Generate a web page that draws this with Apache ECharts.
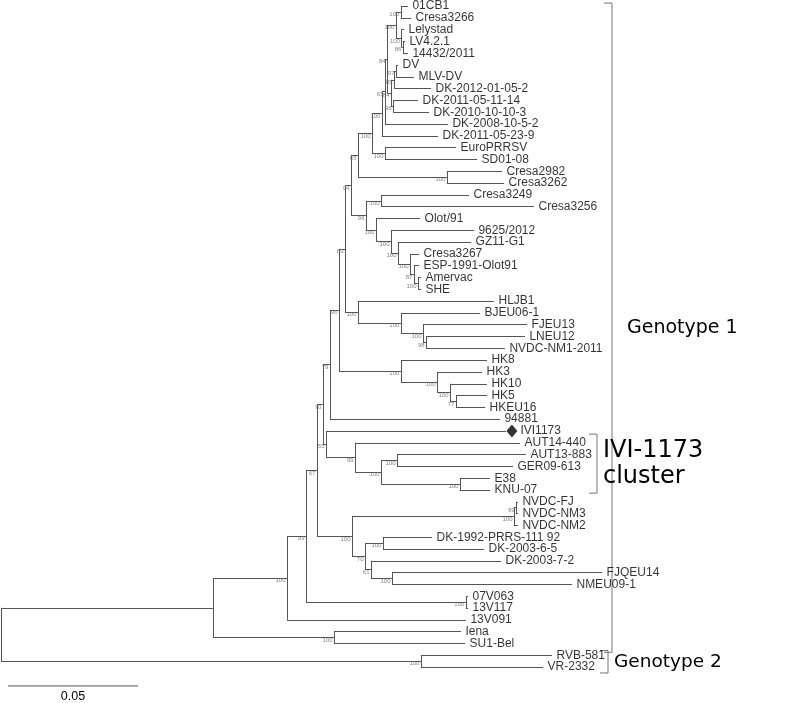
<!DOCTYPE html>
<html><head><meta charset="utf-8">
<script src="https://cdn.jsdelivr.net/npm/echarts@6/dist/echarts.min.js"></script>
<style>html,body{margin:0;padding:0;background:#fff}#c{width:785px;height:703px}</style>
</head><body><div id="c"></div>
<script>
// ---- leaves (top to bottom) ----
const leafNames = ["01CB1","Cresa3266","Lelystad","LV4.2.1","14432/2011","DV","MLV-DV","DK-2012-01-05-2","DK-2011-05-11-14","DK-2010-10-10-3","DK-2008-10-5-2","DK-2011-05-23-9","EuroPRRSV","SD01-08","Cresa2982","Cresa3262","Cresa3249","Cresa3256","Olot/91","9625/2012","GZ11-G1","Cresa3267","ESP-1991-Olot91","Amervac","SHE","HLJB1","BJEU06-1","FJEU13","LNEU12","NVDC-NM1-2011","HK8","HK3","HK10","HK5","HKEU16","94881","IVI1173","AUT14-440","AUT13-883","GER09-613","E38","KNU-07","NVDC-FJ","NVDC-NM3","NVDC-NM2","DK-1992-PRRS-111 92","DK-2003-6-5","DK-2003-7-2","FJQEU14","NMEU09-1","07V063","13V117","13V091","Iena","SU1-Bel","RVB-581","VR-2332"];
// distance from root (substitutions/site)
const leafDepth = [0.1565,0.1577,0.1550,0.1554,0.1565,0.1527,0.1588,0.1654,0.1604,0.1646,0.1719,0.1681,0.1750,0.1831,0.1927,0.1935,0.1800,0.2050,0.1612,0.1819,0.1808,0.1608,0.1608,0.1615,0.1615,0.1896,0.1842,0.2023,0.2015,0.1938,0.1869,0.1850,0.1869,0.1869,0.1862,0.1919,0.1942,0.1996,0.2019,0.1969,0.1881,0.1881,0.1988,0.1988,0.1988,0.1658,0.1858,0.1923,0.2312,0.2196,0.1796,0.1796,0.1788,0.1769,0.1785,0.2119,0.2085];
const markedLeaf = "IVI1173";

// ---- internal nodes (children listed before parents) ----
const nodeIds = ["T1","T2","T3","T4","T5","T6","T7","T8","T9","T10","T11","ES","T12","CP","T13","CC","C8","C7","C6","C5","C4","C3","C2","T14","JD","JC","JB","JA","N89","HKD","HKC","HKB","HKA","H0","H1","IB","IE","IC","IA","I0","H2","NV1","NV","DKP","FQ","F3","F2","F","D","V","C","B","IS","A","G2","R"];
const nodeChildren = [
 ["01CB1","Cresa3266"],["LV4.2.1","14432/2011"],["Lelystad","#T2"],["#T1","#T3"],["DV","MLV-DV"],["#T5","DK-2012-01-05-2"],["DK-2011-05-11-14","DK-2010-10-10-3"],["#T6","#T7"],["#T4","#T8"],["#T9","DK-2008-10-5-2"],["#T10","DK-2011-05-23-9"],["EuroPRRSV","SD01-08"],["#T11","#ES"],["Cresa2982","Cresa3262"],["#T12","#CP"],["Cresa3249","Cresa3256"],["Amervac","SHE"],["ESP-1991-Olot91","#C8"],["Cresa3267","#C7"],["GZ11-G1","#C6"],["9625/2012","#C5"],["Olot/91","#C4"],["#CC","#C3"],["#T13","#C2"],["LNEU12","NVDC-NM1-2011"],["FJEU13","#JD"],["BJEU06-1","#JC"],["HLJB1","#JB"],["#T14","#JA"],["HK5","HKEU16"],["HK10","#HKD"],["HK3","#HKC"],["HK8","#HKB"],["#N89","#HKA"],["#H0","94881"],["AUT13-883","GER09-613"],["E38","KNU-07"],["#IB","#IE"],["AUT14-440","#IC"],["IVI1173","#IA"],["#H1","#I0"],["NVDC-FJ","NVDC-NM3"],["#NV1","NVDC-NM2"],["DK-1992-PRRS-111 92","DK-2003-6-5"],["FJQEU14","NMEU09-1"],["DK-2003-7-2","#FQ"],["#DKP","#F3"],["#NV","#F2"],["#H2","#F"],["07V063","13V117"],["#D","#V"],["#C","13V091"],["Iena","SU1-Bel"],["#B","#IS"],["RVB-581","VR-2332"],["#A","#G2"]];
const nodeDepth = [0.1538,0.1546,0.1540,0.1519,0.1519,0.1512,0.1508,0.1500,0.1485,0.1477,0.1465,0.1477,0.1427,0.1715,0.1373,0.1462,0.1604,0.1588,0.1573,0.1527,0.1500,0.1442,0.1404,0.1346,0.1635,0.1623,0.1538,0.1373,0.1323,0.1750,0.1727,0.1677,0.1538,0.1300,0.1265,0.1523,0.1765,0.1462,0.1362,0.1250,0.1238,0.1981,0.1973,0.1469,0.1504,0.1423,0.1400,0.1350,0.1215,0.1788,0.1173,0.1100,0.1281,0.0815,0.1615,0];
const nodeSupport = [100,86,100,100,97,85,96,84,84,65,100,100,100,100,65,100,100,87,100,100,100,100,96,94,98,100,100,100,89,77,100,100,100,96,79,100,100,100,99,55,70,99,100,100,100,61,70,100,67,100,99,100,100,null,100,null];

// ---- annotations ----
const scaleBarLength = 0.05;
const scaleBarLabel = "0.05";
const clades = [
  {text:["Genotype 1"], from:"01CB1", to:"SU1-Bel"},
  {text:["IVI-1173","cluster"], from:"IVI1173", to:"KNU-07"},
  {text:["Genotype 2"], from:"RVB-581", to:"VR-2332"}
];

// ---- build tree geometry ----
const pos = {};
leafNames.forEach((n,i)=>{ pos[n] = {x:leafDepth[i], y:i}; });
nodeIds.forEach((id,k)=>{
  const ch = nodeChildren[k].map(c=>pos[c]);
  const ys = ch.map(p=>p.y);
  pos['#'+id] = {x:nodeDepth[k], y:(Math.min(...ys)+Math.max(...ys))/2};
});
const segs = [];
nodeIds.forEach((id,k)=>{
  const p = pos['#'+id];
  const ch = nodeChildren[k].map(c=>pos[c]);
  const ys = ch.map(q=>q.y);
  segs.push({coords:[[p.x,Math.min(...ys)],[p.x,Math.max(...ys)]]});
  ch.forEach(q=>segs.push({coords:[[p.x,q.y],[q.x,q.y]]}));
});

const chart = echarts.init(document.getElementById('c'), null, {renderer:'canvas'});
const FONT = '"Liberation Sans", Arial, sans-serif';
const option = {
  animation:false,
  backgroundColor:'#fff',
  grid:{left:1, right:4, top:6, bottom:7.6},
  xAxis:{type:'value', min:0, max:0.3, show:false},
  yAxis:{type:'value', min:0, max:58.4, inverse:true, show:false},
  series:[
    {type:'lines', coordinateSystem:'cartesian2d', polyline:false, silent:true,
     lineStyle:{color:'#555', width:1, opacity:1}, data:segs},
    {type:'scatter', silent:true, symbolSize:1, itemStyle:{color:'rgba(0,0,0,0)'},
     data:leafNames.map((n,i)=>({name:n, value:[leafDepth[i], i],
       label:{distance: n===markedLeaf ? 14 : 4}})),
     label:{show:true, position:'right', formatter:'{b}', fontSize:12, fontFamily:FONT, color:'#000'}},
    {type:'scatter', silent:true, symbol:'diamond', symbolSize:[11,13], symbolOffset:[6,0],
     itemStyle:{color:'#000'},
     data:[[leafDepth[leafNames.indexOf(markedLeaf)], leafNames.indexOf(markedLeaf)]]},
    {type:'scatter', silent:true, symbolSize:1, itemStyle:{color:'rgba(0,0,0,0)'},
     data:nodeIds.map((id,k)=>nodeSupport[k]==null?null:({name:String(nodeSupport[k]), value:[pos['#'+id].x, pos['#'+id].y]})).filter(Boolean),
     label:{show:true, position:'left', distance:1, offset:[0,2.5], formatter:'{b}', fontSize:6, fontFamily:FONT, color:'#666'}}
  ]
};
chart.setOption(option);

// annotations positioned through the axes
function px(x,y){ return chart.convertToPixel({gridIndex:0},[x,y]); }
const g = [];
// scale bar
const sbY = 57.6, sbX0 = 0.0027;
const a = px(sbX0, sbY), b = px(sbX0+scaleBarLength, sbY);
g.push({type:'line', shape:{x1:a[0],y1:a[1],x2:b[0],y2:b[1]}, style:{stroke:'#555', lineWidth:1}});
g.push({type:'text', style:{text:scaleBarLabel, x:(a[0]+b[0])/2, y:a[1]+11, textAlign:'center', textVerticalAlign:'middle', font:'12.5px '+FONT, fill:'#000'}});
// clade brackets
const bracketX = [612, 597, 608];
const pads = [[-0.25,0.75],[0.27,0.27],[-0.4,0.5]];
const fonts = [19, 24, 18.5];
clades.forEach((c,k)=>{
  const y0 = px(0, leafNames.indexOf(c.from)+pads[k][0])[1];
  const y1 = px(0, leafNames.indexOf(c.to)+pads[k][1])[1];
  const x = bracketX[k];
  g.push({type:'polyline', shape:{points:[[x-8,y0],[x,y0],[x,y1],[x-8,y1]]}, style:{stroke:'#777', lineWidth:1, fill:null}});
  const mid = (y0+y1)/2, lh = fonts[k]*1.07;
  c.text.forEach((t,j)=>{
    g.push({type:'text', style:{text:t, x:x+ (k===0?15:6), y:mid + (j-(c.text.length-1)/2)*lh, textVerticalAlign:'middle', font:fonts[k]+'px "DejaVu Sans", Verdana, sans-serif', fill:'#000'}});
  });
});
chart.setOption({graphic:g});
</script></body></html>
